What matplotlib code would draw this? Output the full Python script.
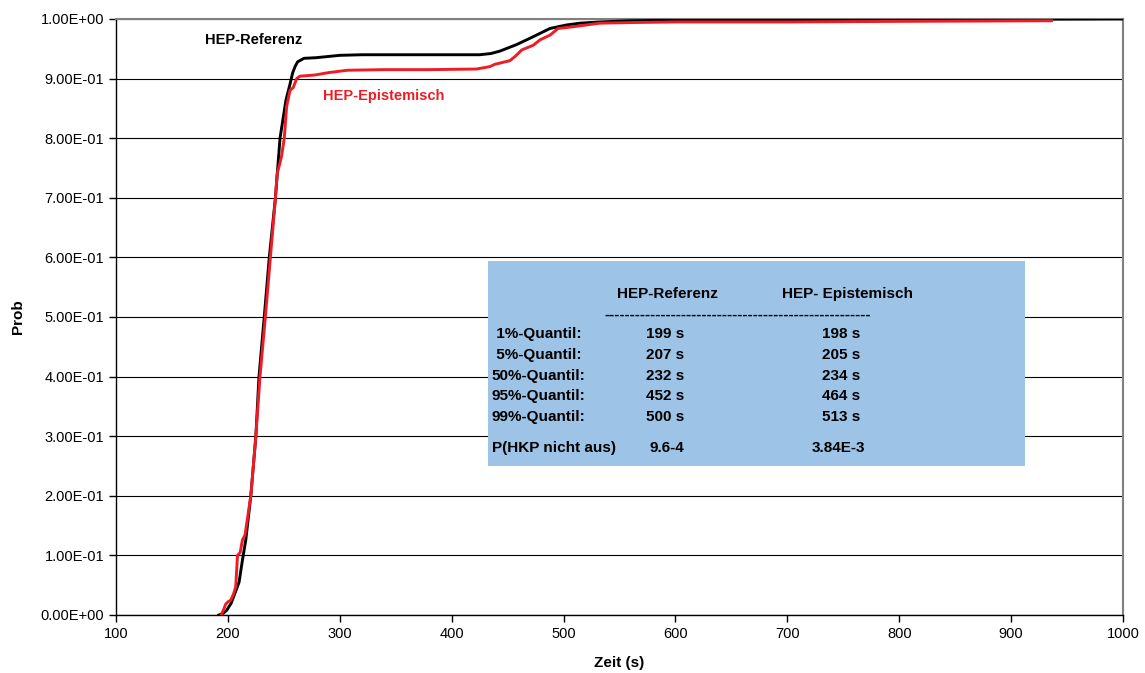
import matplotlib
matplotlib.use('Agg')
import matplotlib.pyplot as plt
from matplotlib.patches import Rectangle
from matplotlib.ticker import FuncFormatter, MultipleLocator

plt.rcParams['font.family'] = ['Liberation Sans', 'DejaVu Sans']

# HEP-Referenz curve (time in s, cumulative probability)
ref_t = [192, 196, 199, 203, 207, 210, 213, 216, 220.5, 225, 227.8, 232.5, 237, 242.5,
         246.6, 251.9, 255.7, 257.8, 260, 262.3, 268, 278.6, 300, 320, 360, 400, 425,
         435, 443, 458, 472.6, 487.8, 502.8, 515, 532.5, 560, 600, 700, 800, 900, 1000]
ref_p = [0, 0.003, 0.008, 0.02, 0.04, 0.055, 0.092, 0.126, 0.2, 0.3, 0.4, 0.5, 0.6, 0.7,
         0.8, 0.864, 0.892, 0.909, 0.92, 0.928, 0.934, 0.935, 0.939, 0.940, 0.940, 0.940, 0.940,
         0.942, 0.946, 0.957, 0.97, 0.984, 0.99, 0.993, 0.995, 0.997, 0.998, 0.999, 0.999, 0.9995, 1.0]

# HEP-Epistemisch curve
epi_t = [194, 196, 198, 200, 202.6, 205, 207, 208.6, 211, 213, 215.3, 220.5, 225, 228.7,
         233.5, 238, 242.4, 244, 246.5, 248, 250.4, 252.5, 255.5, 258.4, 261.5, 264.4, 277.8,
         290, 307, 340, 380, 422, 434, 438.7, 452, 456.6, 462.6, 473, 479, 488, 495, 508.5,
         532.5, 560, 600, 700, 800, 936]
epi_p = [0, 0.008, 0.018, 0.022, 0.025, 0.035, 0.047, 0.1, 0.105, 0.126, 0.134, 0.2, 0.3, 0.4,
         0.5, 0.6, 0.697, 0.74, 0.758, 0.77, 0.8, 0.853, 0.88, 0.885, 0.9, 0.904, 0.906,
         0.91, 0.914, 0.915, 0.915, 0.916, 0.92, 0.924, 0.93, 0.937, 0.948, 0.956, 0.965, 0.973, 0.984, 0.987,
         0.993, 0.994, 0.995, 0.995, 0.996, 0.997]

# summary table
col_heads = ['HEP-Referenz', 'HEP- Epistemisch']
row_labels = [' 1%-Quantil:', ' 5%-Quantil:', '50%-Quantil:', '95%-Quantil:', '99%-Quantil:']
ref_quant = ['199 s', '207 s', '232 s', '452 s', '500 s']
epi_quant = ['198 s', '205 s', '234 s', '464 s', '513 s']
p_label = 'P(HKP nicht aus)'
p_values = ['9.6-4', '3.84E-3']

RED = '#ee1c25'
BOX = '#9dc3e6'

fig = plt.figure(figsize=(11.45, 6.73), dpi=100)
ax = fig.add_axes([0.1013, 0.0862, 0.8795, 0.8856])

ax.plot(ref_t, ref_p, color='black', lw=2.1, zorder=4)
ax.plot(epi_t, epi_p, color=RED, lw=2.1, zorder=4)

ax.set_xlim(100, 1000)
ax.set_ylim(0, 1)
ax.xaxis.set_major_locator(MultipleLocator(100))
ax.yaxis.set_major_locator(MultipleLocator(0.1))
ax.yaxis.set_major_formatter(FuncFormatter(lambda v, _: f'{v:.2E}'))
ax.xaxis.set_major_formatter(FuncFormatter(lambda v, _: f'{v:.0f}'))
ax.tick_params(labelsize=10.5, length=5, width=1, direction='out', colors='black')

ax.grid(axis='y', color='black', lw=0.8)
ax.set_axisbelow(True)
for side in ['top', 'right']:
    ax.spines[side].set_color('#808080')
    ax.spines[side].set_linewidth(1.5)
for side in ['left', 'bottom']:
    ax.spines[side].set_color('black')
    ax.spines[side].set_linewidth(1)

ax.set_xlabel('Zeit (s)', fontsize=11, fontweight='bold', labelpad=11)
ax.set_ylabel('Prob', fontsize=11, fontweight='bold', labelpad=11)

ax.text(179.5, 0.965, 'HEP-Referenz', color='black', fontsize=10.5, fontweight='bold',
        ha='left', va='center')
ax.text(285, 0.871, 'HEP-Epistemisch', color=RED, fontsize=10.5, fontweight='bold',
        ha='left', va='center')

# table box
ax.add_patch(Rectangle((432.4, 0.25), 479.9, 0.344, facecolor=BOX, edgecolor='none', zorder=2))
tkw = dict(fontsize=11, fontweight='bold', va='center', zorder=3)
ax.text(592.8, 0.538, col_heads[0], ha='center', **tkw)
ax.text(754.1, 0.538, col_heads[1], ha='center', **tkw)
ax.text(655.5, 0.503, '-' * 52, ha='center', **tkw)
row_y = [0.471, 0.436, 0.401, 0.367, 0.333]
for y, lab, a, b in zip(row_y, row_labels, ref_quant, epi_quant):
    ax.text(435.7, y, lab, ha='left', **tkw)
    ax.text(591, y, a, ha='center', **tkw)
    ax.text(747.8, y, b, ha='center', **tkw)
ax.text(435.7, 0.280, p_label, ha='left', **tkw)
ax.text(592.5, 0.280, p_values[0], ha='center', **tkw)
ax.text(746, 0.280, p_values[1], ha='center', **tkw)

fig.savefig('out.png', dpi=100)
